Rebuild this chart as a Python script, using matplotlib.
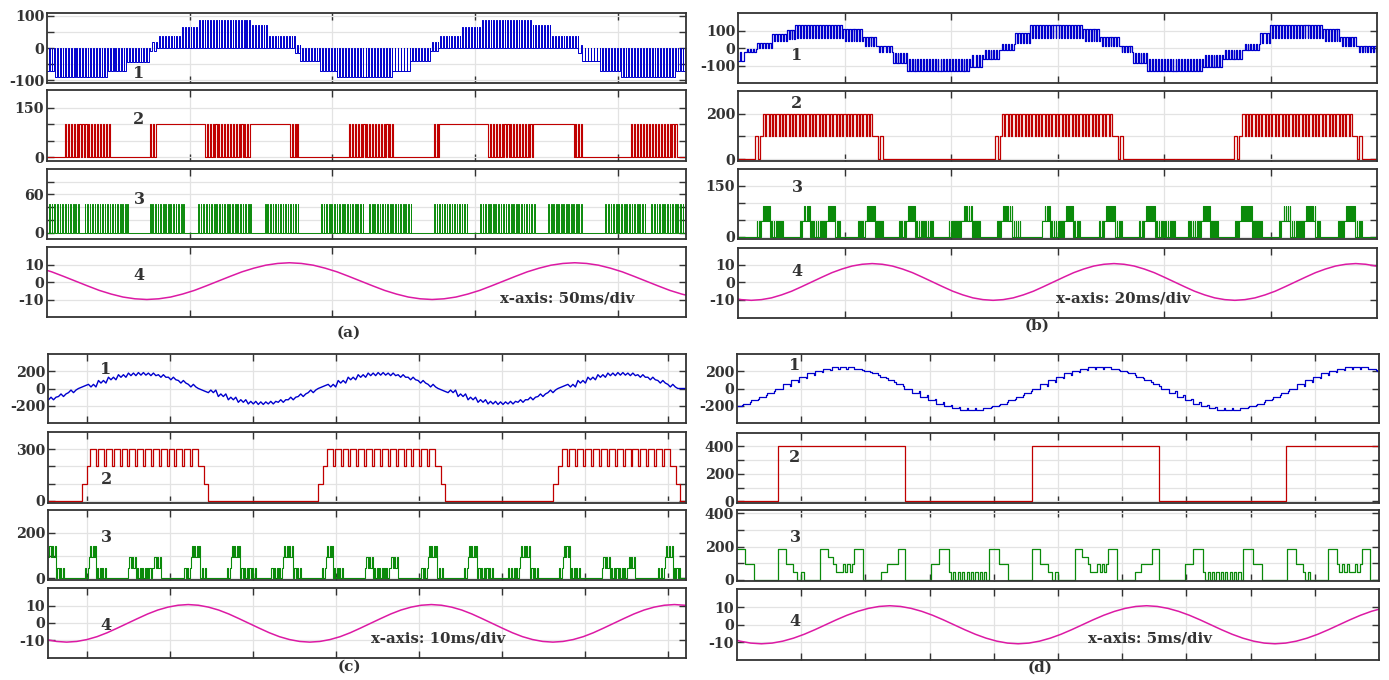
import numpy as np
import matplotlib.pyplot as plt

# ---------------- data read off the four scope screens (time in ms) ----------------
# each PWM trace: (t_start, t_end, base level, pulse level); equal levels = flat

# (a) 50 ms/div
a1_segs = [(0.0, 2.8, -70, 0), (2.8, 21.4, -90, 0), (21.4, 28.1, -70, 0), (28.1, 36.1, -43, 0),
           (36.1, 38.6, -10, 18), (38.6, 46.7, 0, 36), (46.7, 52.6, 0, 66), (52.6, 71.2, 0, 87),
           (71.2, 77.2, 0, 70), (77.2, 87.0, 0, 36), (87.0, 88.8, -15, 10), (88.8, 95.8, -40, 0),
           (95.8, 101.8, -70, 0), (101.8, 121.1, -90, 0), (121.1, 127.4, -70, 0), (127.4, 134.4, -40, 0),
           (134.4, 137.2, -10, 18), (137.2, 144.9, 0, 36), (144.9, 151.9, 0, 66), (151.9, 169.5, 0, 87),
           (169.5, 176.5, 0, 70), (176.5, 186.3, 0, 36), (186.3, 187.7, -15, 10), (187.7, 194.0, -40, 0),
           (194.0, 201.1, -70, 0), (201.1, 220.4, -90, 0), (220.4, 224.0, -70, 0)]
a2_segs = [(0, 5.6, 0, 0), (5.6, 22.1, 0, 100), (22.1, 35.4, 0, 0), (35.4, 38.6, 0, 100),
           (38.6, 55.4, 100, 100), (55.4, 71.6, 0, 100), (71.6, 85.3, 100, 100), (85.3, 88.1, 0, 100),
           (88.1, 105.3, 0, 0), (105.3, 121.4, 0, 100), (121.4, 135.1, 0, 0), (135.1, 137.9, 0, 100),
           (137.9, 154.7, 100, 100), (154.7, 170.9, 0, 100), (170.9, 184.6, 100, 100), (184.6, 187.4, 0, 100),
           (187.4, 204.2, 0, 0), (204.2, 220.7, 0, 100), (220.7, 224.0, 0, 0)]
a3_segs = [(0, 11.2, 0, 45), (11.2, 12.6, 0, 0), (12.6, 28.4, 0, 45), (28.4, 35.4, 0, 0),
           (35.4, 48.1, 0, 45), (48.1, 52.3, 0, 0), (52.3, 71.6, 0, 45), (71.6, 75.8, 0, 0),
           (75.8, 88.1, 0, 45), (88.1, 95.4, 0, 0), (95.4, 110.9, 0, 45), (110.9, 112.3, 0, 0),
           (112.3, 127.7, 0, 45), (127.7, 135.1, 0, 0), (135.1, 147.4, 0, 45), (147.4, 151.2, 0, 0),
           (151.2, 170.9, 0, 45), (170.9, 175.1, 0, 0), (175.1, 187.4, 0, 45), (187.4, 195.1, 0, 0),
           (195.1, 209.8, 0, 45), (209.8, 211.2, 0, 0), (211.2, 224.0, 0, 45)]
a4_span = (-15.0, 226.67)
a4_val = [11.0, 10.6, 9.6, 7.9, 5.8, 3.2, 0.5, -2.2, -4.8, -6.9, -8.6, -9.6, -10.0, -9.6, -8.6, -6.9,
          -4.8, -2.2, 0.5, 3.2, 5.8, 7.9, 9.6, 10.6, 11.0, 10.6, 9.6, 7.9, 5.8, 3.2, 0.5, -2.2,
          -4.8, -6.9, -8.6, -9.6, -10.0, -9.6, -8.6, -6.9, -4.8, -2.2, 0.5, 3.2, 5.8, 7.9, 9.6, 10.6,
          11.0, 10.6, 9.6, 7.9, 5.8, 3.2, 0.5, -2.2, -4.8, -6.9, -8.6]

# (b) 20 ms/div
b1_segs = [(0.0, 1.3, -75, -20), (1.3, 3.6, -25, -5), (3.6, 6.4, 30, 0), (6.4, 9.2, 80, 38),
           (9.2, 10.7, 105, 50), (10.7, 19.7, 133, 60), (19.7, 23.5, 110, 40), (23.5, 26.1, 65, 10),
           (26.1, 29.1, 10, -25), (29.1, 31.7, -85, -30), (31.7, 43.6, -133, -60), (43.6, 46.0, -110, -40),
           (46.0, 49.2, -65, -10), (49.2, 52.0, -10, 25), (52.0, 54.8, 85, 30), (54.8, 64.8, 133, 60),
           (64.8, 68.0, 110, 40), (68.0, 71.7, 65, 10), (71.7, 74.2, 10, -25), (74.2, 76.8, -85, -30),
           (76.8, 87.3, -133, -60), (87.3, 91.1, -110, -40), (91.1, 94.8, -65, -10), (94.8, 98.0, -10, 25),
           (98.0, 99.9, 85, 30), (99.9, 109.9, 133, 60), (109.9, 113.1, 110, 40), (113.1, 116.2, 65, 10),
           (116.2, 120.0, 10, -25)]
b2_segs = [(0, 3.2, 0, 0), (3.2, 3.8, 100, 100), (3.8, 4.1, 0, 0), (4.1, 4.7, 100, 100),
           (4.7, 25.4, 200, 100), (25.4, 26.3, 100, 100), (26.3, 26.7, 0, 0), (26.7, 27.2, 100, 100),
           (27.2, 48.3, 0, 0), (48.3, 48.8, 100, 100), (48.8, 49.2, 0, 0), (49.2, 49.6, 100, 100),
           (49.6, 70.4, 200, 100), (70.4, 71.4, 100, 100), (71.4, 71.8, 0, 0), (71.8, 72.3, 100, 100),
           (72.3, 93.1, 0, 0), (93.1, 93.7, 100, 100), (93.7, 94.1, 0, 0), (94.1, 94.7, 100, 100),
           (94.7, 115.5, 200, 100), (115.5, 116.2, 100, 100), (116.2, 116.7, 0, 0), (116.7, 117.1, 100, 100),
           (117.1, 120.0, 0, 0)]
b3_segs = [(0, 3.2, 0, 0), (3.2, 4.5, 0, 46), (4.5, 6.0, 46, 92), (6.0, 8.5, 0, 46), (8.5, 11.3, 0, 0),
           (11.3, 12.2, 0, 46), (12.2, 13.5, 46, 92), (13.5, 16.7, 0, 46), (16.7, 18.2, 46, 92),
           (18.2, 19.2, 0, 46), (19.2, 22.3, 0, 0), (22.3, 23.9, 0, 46), (23.9, 25.7, 46, 92),
           (25.7, 27.2, 0, 46), (27.2, 30.0, 0, 0), (30.0, 31.7, 0, 46), (31.7, 33.2, 46, 92),
           (33.2, 36.6, 0, 46), (36.6, 39.3, 0, 0), (39.3, 42.1, 0, 46), (42.1, 43.9, 46, 92),
           (43.9, 45.4, 0, 46), (45.4, 48.3, 0, 0), (48.3, 49.6, 0, 46), (49.6, 51.5, 46, 92),
           (51.5, 53.0, 0, 46), (53.0, 56.7, 0, 0), (56.7, 57.3, 0, 46), (57.3, 58.6, 46, 92),
           (58.6, 61.4, 0, 46), (61.4, 62.9, 46, 92), (62.9, 64.2, 0, 46), (64.2, 67.6, 0, 0),
           (67.6, 68.9, 0, 46), (68.9, 70.8, 46, 92), (70.8, 72.1, 0, 46), (72.1, 75.1, 0, 0),
           (75.1, 76.4, 0, 46), (76.4, 78.3, 46, 92), (78.3, 82.1, 0, 46), (82.1, 84.3, 0, 0),
           (84.3, 87.1, 0, 46), (87.1, 88.6, 46, 92), (88.6, 90.1, 0, 46), (90.1, 93.0, 0, 0),
           (93.0, 94.3, 0, 46), (94.3, 96.5, 46, 92), (96.5, 98.4, 0, 46), (98.4, 101.2, 0, 0),
           (101.2, 102.2, 0, 46), (102.2, 103.7, 46, 92), (103.7, 106.5, 0, 46), (106.5, 108.4, 46, 92),
           (108.4, 109.3, 0, 46), (109.3, 112.5, 0, 0), (112.5, 114.0, 0, 46), (114.0, 115.9, 46, 92),
           (115.9, 117.2, 0, 46), (117.2, 120.0, 0, 0)]
b4_span = (-8.85, 121.68)
b4_val = [0.2, -2.5, -5.1, -7.2, -8.9, -9.9, -10.3, -9.9, -8.9, -7.2, -5.1, -2.5, 0.2, 2.9, 5.5, 7.6,
          9.3, 10.3, 10.7, 10.3, 9.3, 7.6, 5.5, 2.9, 0.2, -2.5, -5.1, -7.2, -8.9, -9.9, -10.3, -9.9,
          -8.9, -7.2, -5.1, -2.5, 0.2, 2.9, 5.5, 7.6, 9.3, 10.3, 10.7, 10.3, 9.3, 7.6, 5.5, 2.9,
          0.2, -2.5, -5.1, -7.2, -8.9, -9.9, -10.3, -9.9, -8.9, -7.2, -5.1, -2.5, 0.2, 2.9, 5.5, 7.6,
          9.3, 10.3, 10.7, 10.3, 9.3, 7.6]

# (c) 10 ms/div
c1_start, c1_step = -1.142, 1.204
c1_level = [-160, -131, -93, -48, 0, 48, 93, 131, 160, 179, 185, 179, 160, 131, 93, 48,
            0, -48, -93, -131, -160, -179, -185, -179, -160, -131, -93, -48, 0, 48, 93, 131,
            160, 179, 185, 179, 160, 131, 93, 48, 0, -48, -93, -131, -160, -179, -185, -179,
            -160, -131, -93, -48, 0, 48, 93, 131, 160, 179, 185, 179, 160, 131, 93, 48, 0]
c2_segs = [(0, 4.1, 0, 0), (4.1, 4.7, 100, 100), (4.7, 5.1, 200, 200), (5.1, 18.3, 300, 200),
           (18.3, 18.8, 200, 200), (18.8, 19.3, 100, 100), (19.3, 32.5, 0, 0), (32.5, 33.1, 100, 100),
           (33.1, 33.6, 200, 200), (33.6, 46.9, 300, 200), (46.9, 47.4, 200, 200), (47.4, 47.8, 100, 100),
           (47.8, 60.9, 0, 0), (60.9, 61.5, 100, 100), (61.5, 61.9, 200, 200), (61.9, 75.2, 300, 200),
           (75.2, 75.7, 200, 200), (75.7, 76.2, 100, 100), (76.2, 76.9, 0, 0)]
c3_segs = [(0, 0.96, 95, 140), (0.96, 1.93, 0, 45), (1.93, 4.34, 0, 0), (4.34, 4.94, 0, 45),
           (4.94, 5.78, 95, 140), (5.78, 6.99, 0, 45), (6.99, 9.64, 0, 0), (9.64, 10.60, 45, 95),
           (10.60, 12.65, 0, 45), (12.65, 13.62, 45, 95), (13.62, 16.27, 0, 0), (16.27, 17.23, 0, 45),
           (17.23, 18.32, 95, 140), (18.32, 19.04, 0, 45), (19.04, 21.45, 0, 0), (21.45, 22.05, 0, 45),
           (22.05, 23.14, 95, 140), (23.14, 25.06, 0, 45), (25.06, 26.75, 0, 0), (26.75, 28.32, 0, 45),
           (28.32, 29.52, 95, 140), (29.52, 30.49, 0, 45), (30.49, 32.90, 0, 0), (32.90, 33.50, 0, 45),
           (33.50, 34.34, 95, 140), (34.34, 35.55, 0, 45), (35.55, 38.20, 0, 0), (38.20, 39.16, 45, 95),
           (39.16, 41.21, 0, 45), (41.21, 42.18, 45, 95), (42.18, 44.83, 0, 0), (44.83, 45.79, 0, 45),
           (45.79, 46.87, 95, 140), (46.87, 47.60, 0, 45), (47.60, 50.01, 0, 0), (50.01, 50.61, 0, 45),
           (50.61, 51.69, 95, 140), (51.69, 53.62, 0, 45), (53.62, 55.31, 0, 0), (55.31, 56.88, 0, 45),
           (56.88, 58.08, 95, 140), (58.08, 59.05, 0, 45), (59.05, 61.46, 0, 0), (61.46, 62.06, 0, 45),
           (62.06, 62.90, 95, 140), (62.90, 64.11, 0, 45), (64.11, 66.76, 0, 0), (66.76, 67.72, 45, 95),
           (67.72, 69.89, 0, 45), (69.89, 70.73, 45, 95), (70.73, 73.38, 0, 0), (73.38, 74.35, 0, 45),
           (74.35, 75.31, 95, 140), (75.31, 76.16, 0, 45), (76.16, 76.9, 0, 0)]
c4_span = (-0.194, 77.95)
c4_val = [-9.7, -10.8, -11.2, -10.8, -9.7, -8.0, -5.7, -3.0, -0.2, 2.6, 5.3, 7.6, 9.3, 10.4, 10.8, 10.4,
          9.3, 7.6, 5.3, 2.6, -0.2, -3.0, -5.7, -8.0, -9.7, -10.8, -11.2, -10.8, -9.7, -8.0, -5.7, -3.0,
          -0.2, 2.6, 5.3, 7.6, 9.3, 10.4, 10.8, 10.4, 9.3, 7.6, 5.3, 2.6, -0.2, -3.0, -5.7, -8.0,
          -9.7, -10.8, -11.2, -10.8, -9.7, -8.0, -5.7, -3.0, -0.2, 2.6, 5.3, 7.6, 9.3, 10.4, 10.8, 10.4, 9.3]

# (d) 5 ms/div
d1_start, d1_step = -0.14, 0.625
d1_level = [-208, -177, -139, -96, -49, 0, 49, 96, 139, 177, 208, 231, 245, 250, 245, 231,
            208, 177, 139, 96, 49, 0, -49, -96, -139, -177, -208, -231, -245, -250, -245, -231,
            -208, -177, -139, -96, -49, 0, 49, 96, 139, 177, 208, 231, 245, 250, 245, 231,
            208, 177, 139, 96, 49, 0, -49, -96, -139, -177, -208, -231, -245, -250, -245, -231,
            -208, -177, -139, -96, -49, 0, 49, 96, 139, 177, 208, 231, 245, 250, 245, 231, 208]
d2_segs = [(0, 3.17, 0, 0), (3.17, 13.08, 400, 400), (13.08, 22.97, 0, 0), (22.97, 32.86, 400, 400),
           (32.86, 42.76, 0, 0), (42.76, 50.0, 400, 400)]
d3_segs = [(0, 0.6, 183, 183), (0.6, 1.3, 96, 96), (1.3, 3.2, 0, 0), (3.2, 3.8, 183, 183),
           (3.8, 4.4, 96, 96), (4.4, 4.7, 48, 48), (4.7, 5.2, 0, 48), (5.2, 6.5, 0, 0),
           (6.5, 7.1, 183, 183), (7.1, 7.5, 138, 138), (7.5, 7.7, 96, 96), (7.7, 8.1, 48, 48),
           (8.1, 9.1, 48, 96), (9.1, 9.8, 183, 183), (9.8, 11.0, 0, 0), (11.0, 11.4, 0, 48),
           (11.4, 11.7, 48, 48), (11.7, 12.5, 96, 96), (12.5, 13.1, 183, 183), (13.1, 15.1, 0, 0),
           (15.1, 15.7, 96, 96), (15.7, 16.5, 183, 183), (16.5, 19.6, 48, 0), (19.6, 20.4, 183, 183),
           (20.4, 21.1, 96, 96), (21.1, 23.0, 0, 0), (23.0, 23.6, 183, 183), (23.6, 24.2, 96, 96),
           (24.2, 24.5, 48, 48), (24.5, 25.0, 0, 48), (25.0, 26.3, 0, 0), (26.3, 26.9, 183, 183),
           (26.9, 27.3, 138, 138), (27.3, 27.5, 96, 96), (27.5, 27.9, 48, 48), (27.9, 28.9, 48, 96),
           (28.9, 29.6, 183, 183), (29.6, 30.8, 0, 0), (30.8, 31.2, 0, 48), (31.2, 31.5, 48, 48),
           (31.5, 32.3, 96, 96), (32.3, 32.9, 183, 183), (32.9, 34.9, 0, 0), (34.9, 35.5, 96, 96),
           (35.5, 36.3, 183, 183), (36.3, 39.4, 48, 0), (39.4, 40.2, 183, 183), (40.2, 40.9, 96, 96),
           (40.9, 42.8, 0, 0), (42.8, 43.5, 183, 183), (43.5, 44.1, 96, 96), (44.1, 44.8, 48, 0),
           (44.8, 46.0, 0, 0), (46.0, 46.7, 183, 183), (46.7, 47.9, 96, 48), (47.9, 48.7, 48, 96),
           (48.7, 49.3, 183, 183), (49.3, 50.0, 0, 0)]
d4_span = (-0.6, 50.23)
d4_val = [-7.6, -9.3, -10.4, -10.8, -10.4, -9.3, -7.6, -5.4, -2.8, 0.0, 2.8, 5.4, 7.6, 9.3, 10.4, 10.8,
          10.4, 9.3, 7.6, 5.4, 2.8, 0.0, -2.8, -5.4, -7.6, -9.3, -10.4, -10.8, -10.4, -9.3, -7.6, -5.4,
          -2.8, 0.0, 2.8, 5.4, 7.6, 9.3, 10.4, 10.8, 10.4, 9.3, 7.6, 5.4, 2.8, 0.0, -2.8, -5.4,
          -7.6, -9.3, -10.4, -10.8, -10.4, -9.3, -7.6, -5.4, -2.8, 0.0, 2.8, 5.4, 7.6, 9.3]

# ---------------- helpers ----------------
W, H = 1389, 680
BLUE, RED, GREEN, PINK = "#0000cd", "#c00000", "#0a8a0a", "#dc1aa4"
INK = "#333333"
FONT = dict(family="DejaVu Serif", weight="bold", color=INK)


def expand(segs, period, duty):
    # turn the segment table into a step trace, switching at the carrier period
    t, v = [], []
    for t0, t1, base, spike in segs:
        if base == spike:
            t.append(t0)
            v.append(base)
            continue
        n = max(1, int(round((t1 - t0) / period)))
        edges = np.linspace(t0, t1, n + 1)
        for e0, e1 in zip(edges[:-1], edges[1:]):
            t += [e0, e1 - (e1 - e0) * duty]
            v += [base, spike]
    t.append(segs[-1][1])
    v.append(v[-1])
    return np.array(t), np.array(v)


def stair_segs(start, step, levels, ripple):
    segs = []
    for i, lev in enumerate(levels):
        t0 = start + i * step
        segs.append((t0, t0 + step, lev, lev - np.sign(lev) * ripple))
    return segs


def make_ax(x0, x1, y0, y1, xlim, xticks, ylim, yticks, ylabels):
    ax = fig.add_axes([x0 / W, 1 - y1 / H, (x1 - x0) / W, (y1 - y0) / H])
    ax.set_xlim(*xlim)
    ax.set_ylim(*ylim)
    ax.set_xticks(xticks)
    ax.set_xticklabels([])
    ax.set_yticks(yticks)
    ax.set_yticklabels(ylabels, fontsize=10.3, **FONT)
    ax.tick_params(direction="in", top=True, right=True, length=5, width=1.0, color=INK, pad=2)
    ax.grid(True, color="#e3e3e3", lw=0.9)
    ax.set_axisbelow(True)
    for s in ax.spines.values():
        s.set_color(INK)
        s.set_linewidth(1.3)
    return ax


def label(x, y, s, size):
    fig.text(x / W, 1 - y / H, s, ha="center", va="center", fontsize=size, **FONT)


fig = plt.figure(figsize=(W / 100, H / 100), dpi=100)

# ---------------- (a) ----------------
xa = (0, 224)
ta = [50, 100, 150, 200]
ax = make_ax(47, 686, 13, 83, xa, ta, (-108, 108), [-100, -50, 0, 50, 100], ["-100", "", "0", "", "100"])
ax.plot(*expand(a1_segs, 1.0, 0.3), color=BLUE, lw=0.7, drawstyle="steps-post")
ax = make_ax(47, 686, 90, 161, xa, ta, (-11, 203), [0, 50, 100, 150], ["0", "", "", "150"])
ax.plot(*expand(a2_segs, 1.0, 0.4), color=RED, lw=0.8, drawstyle="steps-post")
ax = make_ax(47, 686, 169, 239, xa, ta, (-10, 100), [0, 20, 40, 60, 80], ["0", "", "", "60", ""])
ax.plot(*expand(a3_segs, 0.9, 0.3), color=GREEN, lw=0.7, drawstyle="steps-post")
ax = make_ax(47, 686, 247, 317, xa, ta, (-20, 20), [-10, 0, 10], ["-10", "0", "10"])
ax.plot(np.linspace(*a4_span, len(a4_val)), a4_val, color=PINK, lw=1.1)

# ---------------- (b) ----------------
xb = (0, 120)
tb = [20, 40, 60, 80, 100]
ax = make_ax(738, 1377, 13, 83, xb, tb, (-200, 200), [-100, 0, 100], ["-100", "0", "100"])
ax.plot(*expand(b1_segs, 0.55, 0.3), color=BLUE, lw=0.9, drawstyle="steps-post")
ax = make_ax(738, 1377, 91, 161, xb, tb, (-8, 300), [0, 100, 200], ["0", "", "200"])
ax.plot(*expand(b2_segs, 0.63, 0.3), color=RED, lw=0.9, drawstyle="steps-post")
ax = make_ax(738, 1377, 169, 239, xb, tb, (-7, 200), [0, 50, 100, 150], ["0", "", "", "150"])
ax.plot(*expand(b3_segs, 0.4, 0.35), color=GREEN, lw=0.8, drawstyle="steps-post")
ax = make_ax(738, 1377, 248, 318, xb, tb, (-20.4, 19.6), [-10, 0, 10], ["-10", "0", "10"])
ax.plot(np.linspace(*b4_span, len(b4_val)), b4_val, color=PINK, lw=1.1)

# ---------------- (c) ----------------
xc = (0, 76.9)
tc = [4.7, 14.7, 24.7, 34.7, 44.7, 54.7, 64.7, 74.7]
ax = make_ax(48, 686, 354, 423, xc, tc, (-400, 400), [-200, 0, 200], ["-200", "0", "200"])
ax.plot(*expand(stair_segs(c1_start, c1_step, c1_level, 30), 0.6, 0.5), color=BLUE, lw=1.0)
ax = make_ax(48, 686, 432, 503, xc, tc, (-13, 400), [0, 100, 200, 300], ["0", "", "", "300"])
ax.plot(*expand(c2_segs, 0.94, 0.25), color=RED, lw=0.9, drawstyle="steps-post")
ax = make_ax(48, 686, 510, 580, xc, tc, (-7, 300), [0, 100, 200], ["0", "", "200"])
ax.plot(*expand(c3_segs, 0.3, 0.45), color=GREEN, lw=0.8, drawstyle="steps-post")
ax = make_ax(48, 686, 588, 658, xc, tc, (-20.5, 20.5), [-10, 0, 10], ["-10", "0", "10"])
ax.plot(np.linspace(*c4_span, len(c4_val)), c4_val, color=PINK, lw=1.1)

# ---------------- (d) ----------------
xd = (0, 50)
td = [5, 10, 15, 20, 25, 30, 35, 40, 45]
ax = make_ax(737, 1379, 354, 423, xd, td, (-400, 400), [-200, 0, 200], ["-200", "0", "200"])
ax.plot(*expand(stair_segs(d1_start, d1_step, d1_level, 20), 0.625, 0.15), color=BLUE, lw=0.9,
        drawstyle="steps-post")
ax = make_ax(737, 1379, 433, 503, xd, td, (-12, 494), [0, 100, 200, 300, 400], ["0", "", "200", "", "400"])
ax.plot(*expand(d2_segs, 1.0, 0.5), color=RED, lw=0.9, drawstyle="steps-post")
ax = make_ax(737, 1379, 510, 581, xd, td, (-6, 418), [0, 100, 200, 300, 400], ["0", "", "200", "", "400"])
ax.plot(*expand(d3_segs, 0.35, 0.5), color=GREEN, lw=0.9, drawstyle="steps-post")
ax = make_ax(737, 1379, 589, 660, xd, td, (-20, 20.3), [-10, 0, 10], ["-10", "0", "10"])
ax.plot(np.linspace(*d4_span, len(d4_val)), d4_val, color=PINK, lw=1.1)

# ---------------- trace numbers and captions ----------------
for x, ys in [(139, (73, 120, 199, 275)), (797, (55, 104, 187, 272)),
              (106, (369, 479, 538, 625)), (795, (366, 458, 537, 621))]:
    for k, y in enumerate(ys):
        label(x, y, str(k + 1), 11.5)

label(567, 299, "x-axis: 50ms/div", 10.8)
label(1123, 298, "x-axis: 20ms/div", 10.8)
label(438, 638, "x-axis: 10ms/div", 10.8)
label(1150, 638, "x-axis: 5ms/div", 10.8)
label(349, 333, "(a)", 11)
label(1037, 326, "(b)", 11)
label(349, 667, "(c)", 11)
label(1040, 668, "(d)", 11)

fig.savefig("out.png", dpi=100)
